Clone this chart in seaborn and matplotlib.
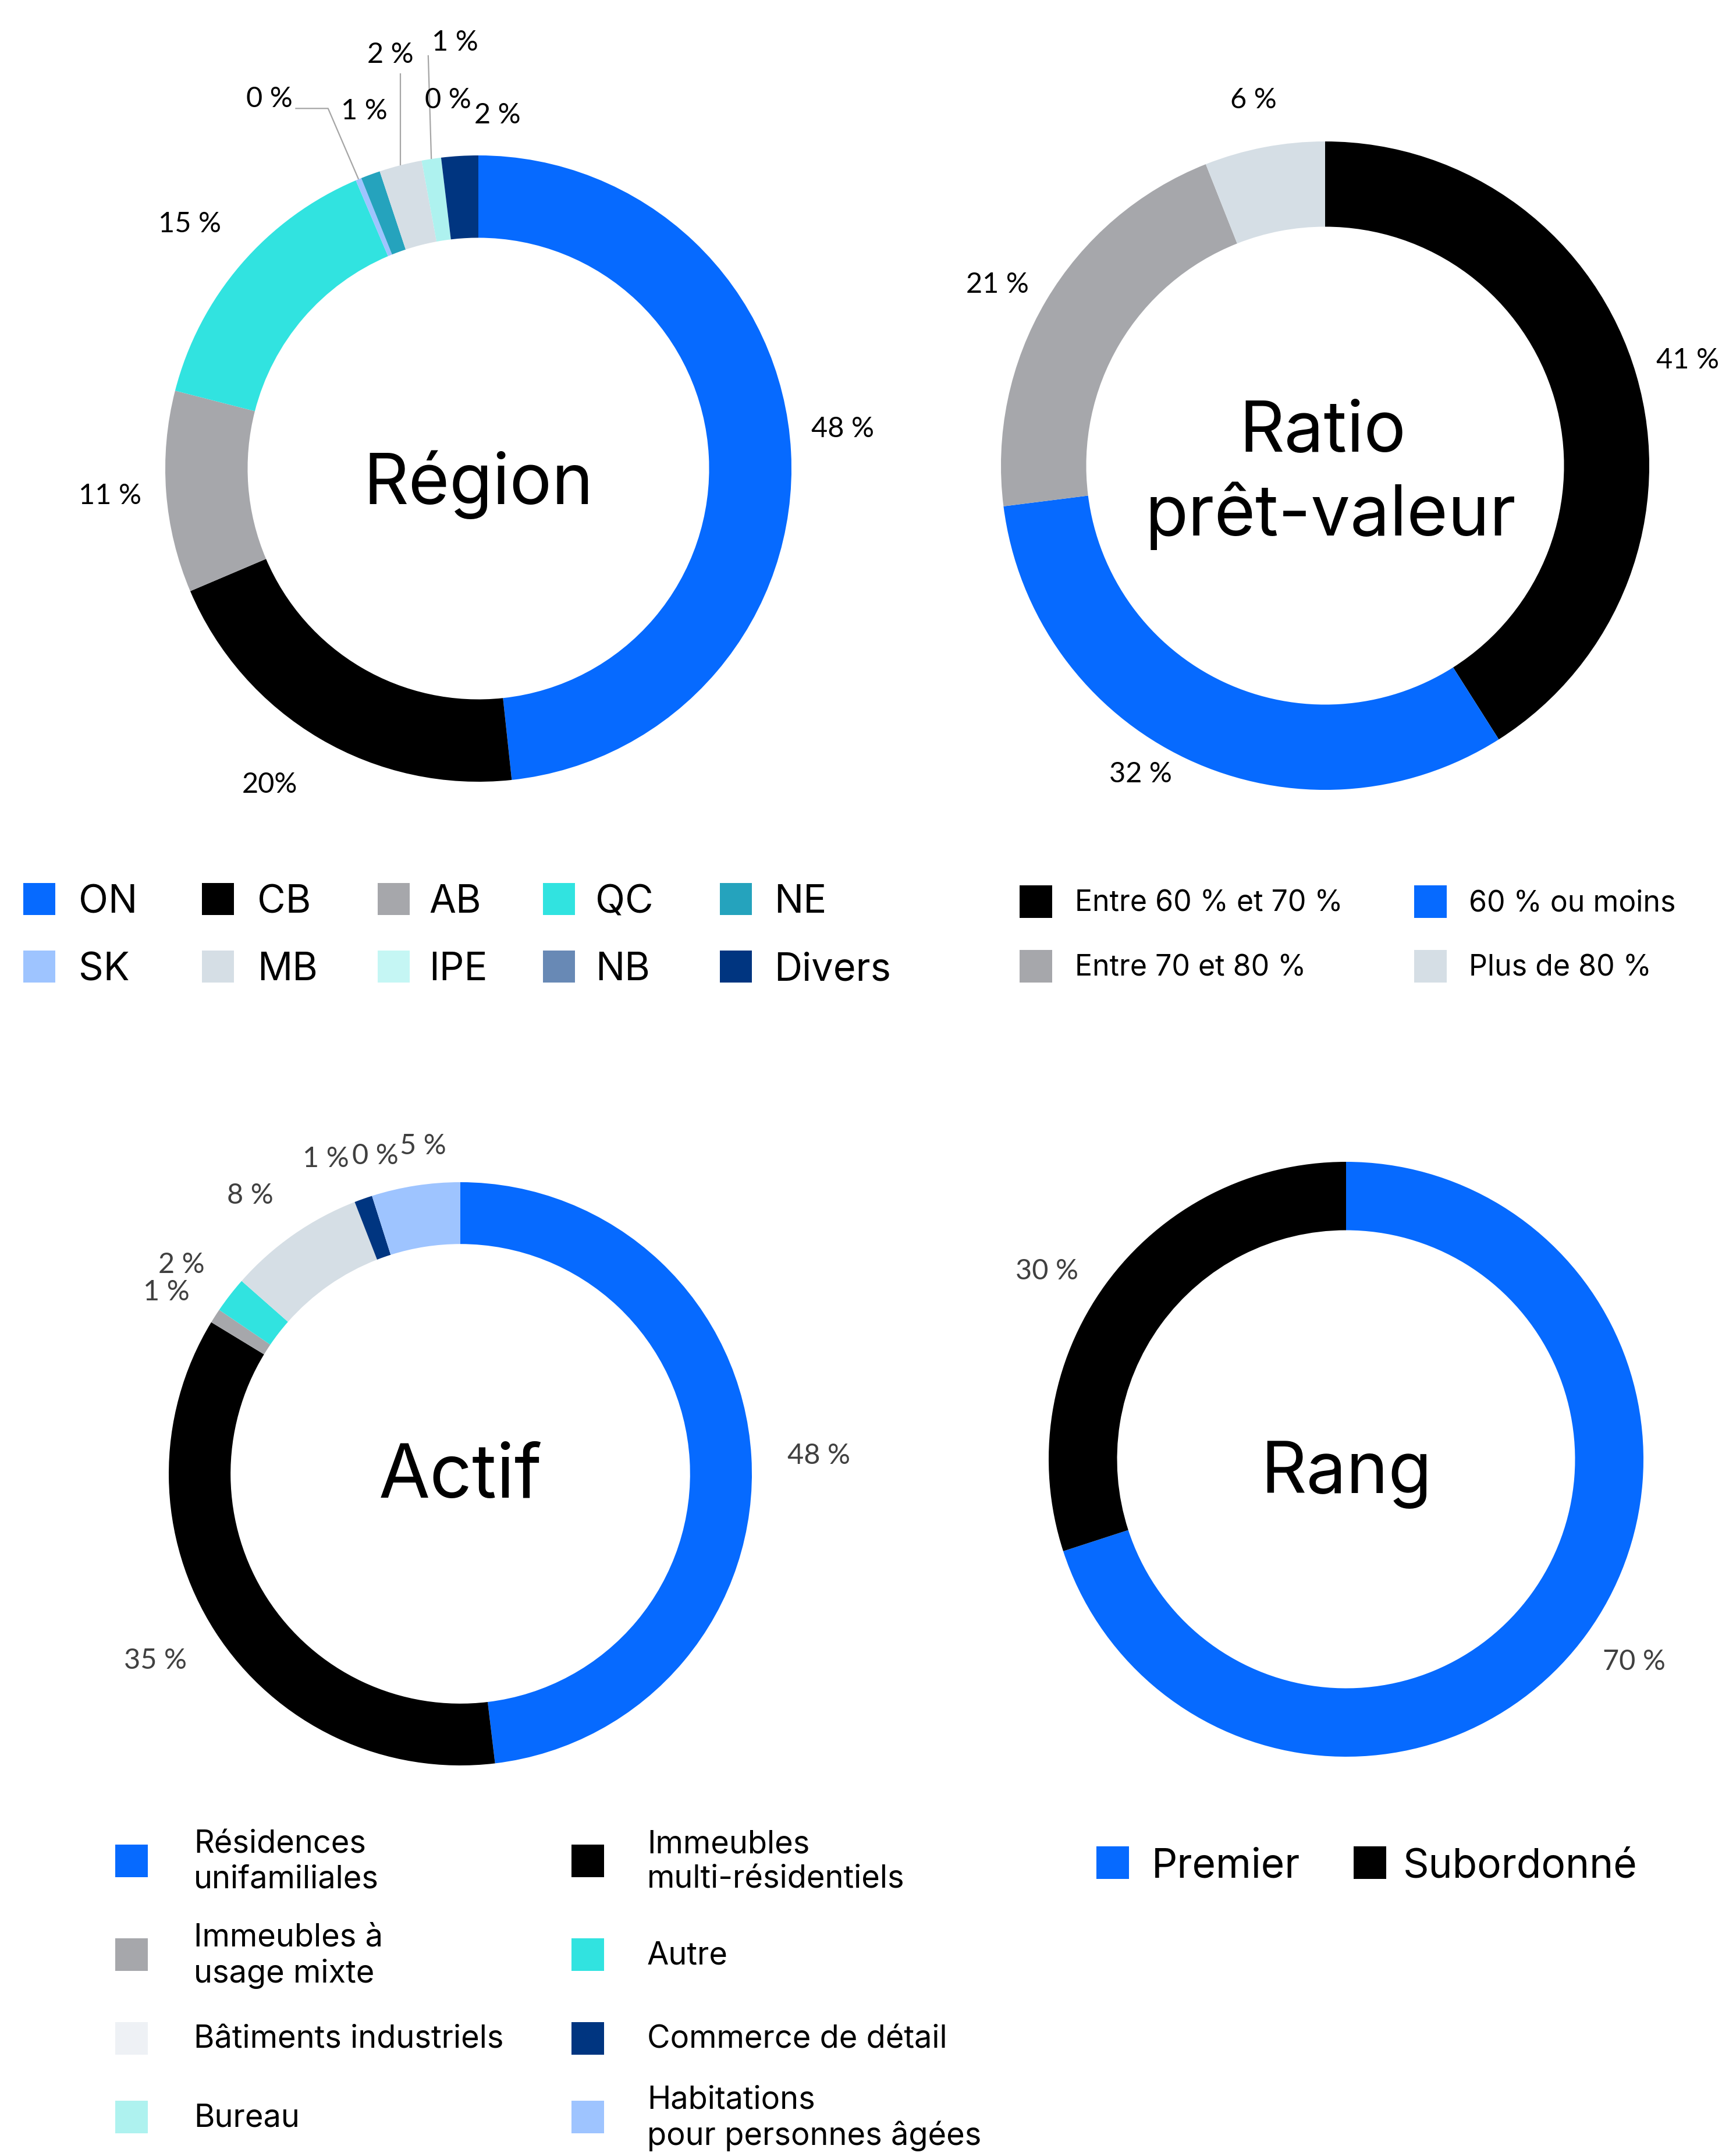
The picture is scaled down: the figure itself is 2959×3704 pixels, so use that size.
import matplotlib
matplotlib.use("Agg")
import numpy as np
import matplotlib.pyplot as plt
import seaborn as sns
from matplotlib.patches import Rectangle

# ---------------- data ----------------
region_names = ["ON", "CB", "AB", "QC", "SK", "NE", "MB", "IPE", "NB", "Divers"]
region_values = [48.3, 20.3, 10.4, 14.6, 0.3, 1.0, 2.2, 1.0, 0.0, 1.9]
region_labels = ["48 %", "20%", "11 %", "15 %", "0 %", "1 %", "2 %", "1 %", "0 %", "2 %"]

ratio_names = ["Entre 60 % et 70 %", "60 % ou moins", "Entre 70 et 80 %", "Plus de 80 %"]
ratio_values = [41, 32, 21, 6]
ratio_labels = ["41 %", "32 %", "21 %", "6 %"]

actif_names = ["Résidences\nunifamiliales", "Immeubles\nmulti-résidentiels",
               "Immeubles à\nusage mixte", "Autre", "Bâtiments industriels",
               "Commerce de détail", "Bureau", "Habitations\npour personnes âgées"]
actif_values = [48.1, 35.6, 0.8, 2.0, 7.6, 1.0, 0.0, 4.9]
actif_labels = ["48 %", "35 %", "1 %", "2 %", "8 %", "1 %", "0 %", "5 %"]

rang_names = ["Premier", "Subordonné"]
rang_values = [70, 30]
rang_labels = ["70 %", "30 %"]

# ---------------- styles ----------------
BLUE, BLACK, GRAY = "#066AFF", "#000000", "#A6A7AB"
CYAN, TEAL, LBLUE = "#31E3E0", "#25A3BD", "#9EC4FF"
LGRAY, PCYAN, NBC, NAVY = "#D5DEE5", "#AEF2EF", "#6889B5", "#003580"

region_colors = [BLUE, BLACK, GRAY, CYAN, LBLUE, TEAL, LGRAY, PCYAN, NBC, NAVY]
region_legend_colors = dict(zip(region_names, region_colors))
region_legend_colors["IPE"] = "#C5F6F4"
ratio_colors = [BLACK, BLUE, GRAY, LGRAY]
actif_colors = [BLUE, BLACK, GRAY, CYAN, LGRAY, NAVY, PCYAN, LBLUE]
actif_legend_colors = list(actif_colors)
actif_legend_colors[4] = "#EEF1F5"
rang_colors = [BLUE, BLACK]

sns.set_theme(style="white")
plt.rcParams["font.family"] = ["Inter", "DejaVu Sans"]

W, H = 2959, 3704
fig = plt.figure(figsize=(W / 100, H / 100), dpi=100)
fig.patch.set_facecolor("white")

LABEL_FONT = ["Lato", "DejaVu Sans"]


def donut(cx, cy, R, values, colors, ring, center_text, center_xy, label_texts,
          label_pos, label_color, center_size=87):
    ax = fig.add_axes([(cx - R) / W, 1 - (cy + R) / H, 2 * R / W, 2 * R / H])
    wedges, _ = ax.pie(values, colors=colors, startangle=90, counterclock=False,
                       radius=1, wedgeprops=dict(width=ring, linewidth=0))
    ax.set_xlim(-1, 1)
    ax.set_ylim(-1, 1)
    ax.set_aspect("equal")
    ax.axis("off")
    for t, (x, y) in zip(label_texts, label_pos):
        ax.text(x, y, t, ha="center", va="center", fontsize=35,
                family=LABEL_FONT, color=label_color, clip_on=False)
    for txt, (x, y) in zip(center_text, center_xy):
        ax.text(x, y, txt, ha="center", va="center", fontsize=center_size,
                color="black")
    return ax, wedges


def mid_point(w, r=1.0):
    a = np.deg2rad((w.theta1 + w.theta2) / 2)
    return r * np.cos(a), r * np.sin(a)


# Région
region_pos = [(1.164, 0.126), (-0.667, -1.009), (-1.177, -0.087), (-0.922, 0.781),
              (-0.667, 1.180), (-0.364, 1.141), (-0.281, 1.322), (-0.074, 1.361),
              (-0.097, 1.177), (0.061, 1.128)]
ax_r, w_r = donut(822, 805, 538, region_values, region_colors, 0.263,
                  ["Région"], [(0, -0.052)], region_labels, region_pos, "black")
lead = dict(color="#A5A5A5", lw=1.6, solid_capstyle="butt")
# leader lines for the crowded small slices
ex, ey = mid_point(w_r[4])
ax_r.plot([-0.585, -0.480, ex], [1.150, 1.150, ey], clip_on=False, **lead)
ex, ey = mid_point(w_r[6])
ax_r.plot([ex, ex], [1.262, ey], clip_on=False, **lead)
ex, ey = mid_point(w_r[7])
ax_r.plot([ex - 0.01, ex], [1.320, ey], clip_on=False, **lead)

# Ratio prêt-valeur
ratio_pos = [(1.118, 0.325), (-0.569, -0.952), (-1.011, 0.558), (-0.221, 1.127)]
donut(2277, 800, 557, ratio_values, ratio_colors, 0.263,
      ["Ratio", "prêt-valeur"], [(-0.008, 0.10), (0.018, -0.155)],
      ratio_labels, ratio_pos, "black")

# Actif
actif_pos = [(1.230, 0.062), (-1.046, -0.641), (-1.008, 0.623), (-0.956, 0.717),
             (-0.721, 0.954), (-0.461, 1.080), (-0.291, 1.090), (-0.128, 1.124)]
donut(791, 2532, 501, actif_values, actif_colors, 0.212,
      ["Actif"], [(0, -0.015)], actif_labels, actif_pos, "#404040", center_size=92)

# Rang
rang_pos = [(0.969, -0.681), (-1.006, 0.632)]
donut(2313, 2507, 511, rang_values, rang_colors, 0.23,
      ["Rang"], [(0, -0.052)], rang_labels, rang_pos, "#404040", center_size=88)


# ---------------- legends ----------------
def legend_item(x_sq, x_txt, y, size, color, text, fontsize, dy=0, linespacing=1.25):
    fig.add_artist(Rectangle((x_sq / W, 1 - (y + size / 2) / H), size / W, size / H,
                             transform=fig.transFigure, facecolor=color,
                             edgecolor="none"))
    fig.text(x_txt / W, 1 - (y + dy) / H, text, ha="left", va="center",
             fontsize=fontsize, color="black", linespacing=linespacing)


region_rows = [["ON", "CB", "AB", "QC", "NE"], ["SK", "MB", "IPE", "NB", "Divers"]]
sq_x = [40, 347, 649, 933, 1237]
tx_x = [135, 442, 737, 1023, 1330]
for row, y in zip(region_rows, [1544, 1660]):
    for name, xs, xt in zip(row, sq_x, tx_x):
        legend_item(xs, xt, y, 55, region_legend_colors[name], name, 48, dy=7)

for i, (name, col) in enumerate(zip(ratio_names, ratio_colors)):
    r, c = divmod(i, 2)
    legend_item([1752, 2430][c], [1847, 2524][c], [1549, 1660][r], 56, col, name, 36,
                dy=3)

for i, (name, col) in enumerate(zip(actif_names, actif_legend_colors)):
    r, c = divmod(i, 2)
    legend_item([198, 982][c], [333, 1112][c], [3197, 3358, 3502, 3637][r], 56,
                col, name, 39, dy=2)

for i, (name, col) in enumerate(zip(rang_names, rang_colors)):
    legend_item([1884, 2326][i], [1979, 2411][i], 3200, 56, col, name, 50, dy=7)

fig.savefig("out.png", dpi=100, facecolor="white")
